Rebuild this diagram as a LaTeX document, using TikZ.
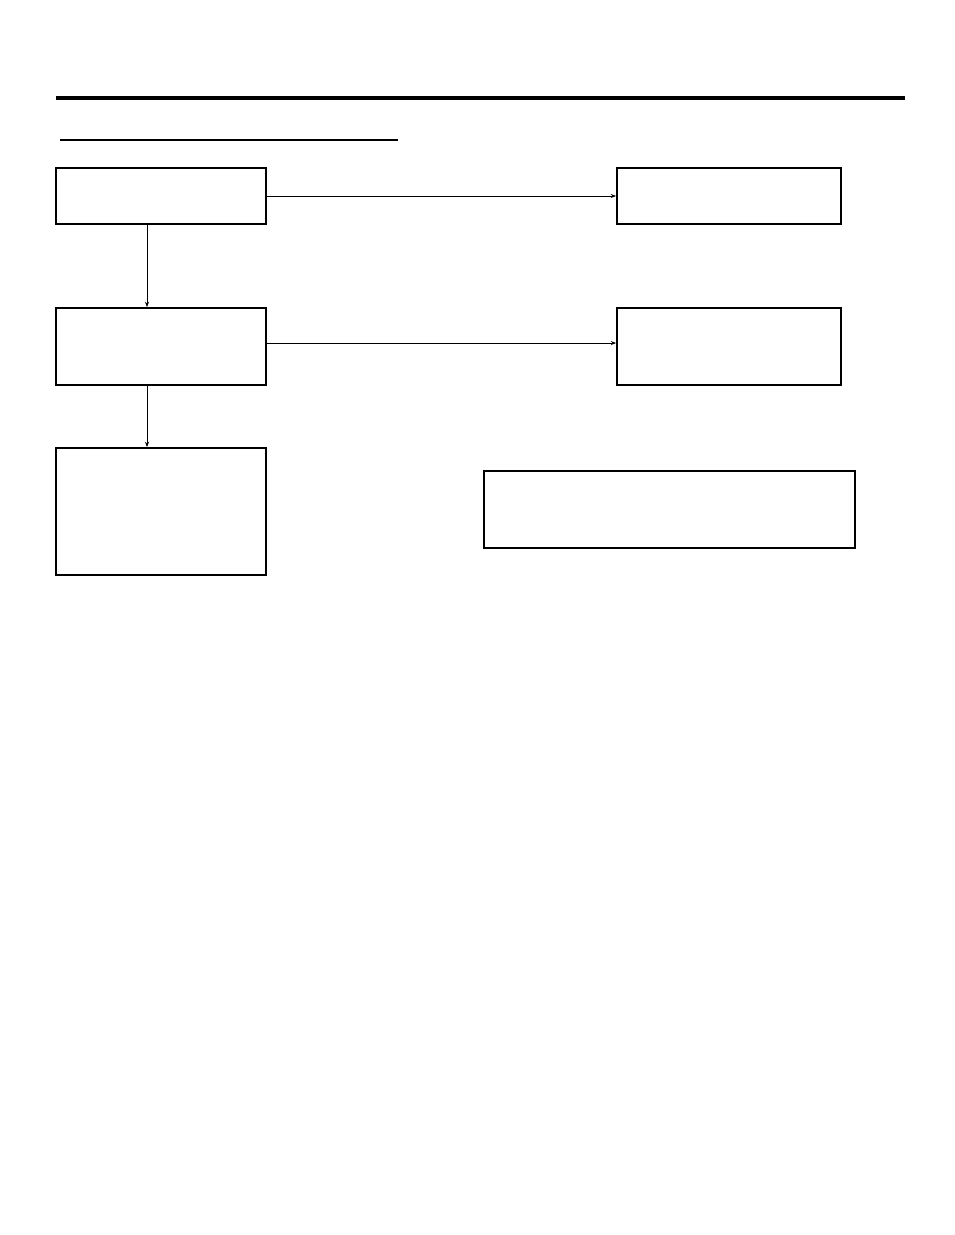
\documentclass[tikz,border=0pt]{standalone}
\usepackage{tikz}
\usetikzlibrary{arrows.meta,positioning}

\begin{document}
\begin{tikzpicture}[x=0.75pt, y=-0.75pt,
  blankbox/.style={draw=black, line width=1.3pt, inner sep=0pt, fill=white},
  flowarrow/.style={-{Stealth[length=4pt,width=3pt]}, line width=0.7pt}]
  \useasboundingbox (0,0) rectangle (954,1235);

  % Header rules
  \coordinate (hl) at (56,98);
  \coordinate (hr) at (905,98);
  \draw[line width=3pt] (hl) -- (hr);
  \coordinate (ul) at (60,140);
  \coordinate (ur) at (398,140);
  \draw[line width=1.5pt] (ul) -- (ur);

  % Left column
  \node[blankbox, minimum width=157.5pt, minimum height=42pt] (first) at (161,196) {};
  \node[blankbox, minimum width=157.5pt, minimum height=57.75pt] (second) at (161,346.5) {};
  \node[blankbox, minimum width=157.5pt, minimum height=95.25pt] (third) at (161,511.5) {};

  % Right column
  \node[blankbox, minimum width=168pt, minimum height=42pt] (firstout) at (729,196) {};
  \node[blankbox, minimum width=168pt, minimum height=57.75pt] (secondout) at (729,346.5) {};

  % Note box
  \node[blankbox, minimum width=278pt, minimum height=57.75pt] (note) at (669.5,509.5) {};

  % Arrows
  \draw[flowarrow] ([xshift=-10.5pt]first.south) -- ([xshift=-10.5pt]second.north);
  \draw[flowarrow] ([xshift=-10.5pt]second.south) -- ([xshift=-10.5pt]third.north);
  \draw[flowarrow] (first.east) -- (firstout.west);
  \draw[flowarrow] ([yshift=2.6pt]second.east) -- ([yshift=2.6pt]secondout.west);
\end{tikzpicture}
\end{document}
